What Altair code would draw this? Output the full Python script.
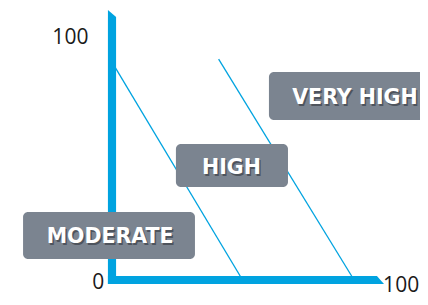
import altair as alt
import pandas as pd

# ---- data (in chart units: x 0..100, y 0..100) ----
boundary_names = ["moderate/high", "moderate/high", "high/very high", "high/very high"]
boundary_x = [0, 48, 39.2, 89]
boundary_y = [90, 0, 91.3, 0]

zone_labels = ["VERY HIGH", "HIGH", "MODERATE"]
zone_x0 = [57.7, 23.5, -32.7]
zone_x1 = [115.8, 64.7, 30.5]
zone_y0 = [66.1, 38.4, 8.7]
zone_y1 = [86.0, 56.2, 28.1]
zone_text_x = [89.3, 43.9, -0.7]
zone_text_y = [75.2, 46.3, 17.8]

tick_labels = ["100", "0", "100"]
tick_x = [-15.3, -5.1, 106.3]
tick_y = [100, -1.4, -2.3]

# axis bars (vertical: slanted top; horizontal: slanted end)
vbar_x = [-1.5, 1.5]
vbar_top = [111.6, 108.7]
vbar_bottom = [-1.65, -1.65]
hbar_y = [1.65, -1.65]
hbar_left = [-1.5, -1.5]
hbar_right = [97.4, 100]

BLUE = "#00a3e0"
GRAY = "#7b8490"

xs = alt.Scale(domain=[-38.235, 113.235], nice=False, zero=False)
ys = alt.Scale(domain=[-7.025, 112.397], nice=False, zero=False)

lines_df = pd.DataFrame({"g": boundary_names, "x": boundary_x, "y": boundary_y})
zones_df = pd.DataFrame({"label": zone_labels, "x0": zone_x0, "x1": zone_x1,
                         "y0": zone_y0, "y1": zone_y1, "tx": zone_text_x, "ty": zone_text_y})
ticks_df = pd.DataFrame({"t": tick_labels, "x": tick_x, "y": tick_y})
vbar_df = pd.DataFrame({"x": vbar_x, "top": vbar_top, "bottom": vbar_bottom})
hbar_df = pd.DataFrame({"y": hbar_y, "left": hbar_left, "right": hbar_right})

lines = alt.Chart(lines_df).mark_line(color=BLUE, strokeWidth=1.3).encode(
    x=alt.X("x:Q", scale=xs, axis=None),
    y=alt.Y("y:Q", scale=ys, axis=None),
    detail="g:N",
)

vbar = alt.Chart(vbar_df).mark_area(color=BLUE, orient="vertical").encode(
    x=alt.X("x:Q", scale=xs, axis=None),
    y=alt.Y("top:Q", scale=ys, axis=None),
    y2="bottom:Q",
)

hbar = alt.Chart(hbar_df).mark_area(color=BLUE, orient="horizontal").encode(
    y=alt.Y("y:Q", scale=ys, axis=None),
    x=alt.X("left:Q", scale=xs, axis=None),
    x2="right:Q",
)

boxes = alt.Chart(zones_df).mark_rect(color=GRAY, cornerRadius=5).encode(
    x=alt.X("x0:Q", scale=xs, axis=None),
    x2="x1:Q",
    y=alt.Y("y0:Q", scale=ys, axis=None),
    y2="y1:Q",
)

shadow = alt.Chart(zones_df).mark_text(
    font="DejaVu Sans", fontWeight="bold", fontSize=20.5, color="#3c4048", opacity=0.7,
    dx=1.5, dy=2, align="center", baseline="middle"
).encode(
    x=alt.X("tx:Q", scale=xs, axis=None),
    y=alt.Y("ty:Q", scale=ys, axis=None),
    text="label:N",
)

texts = alt.Chart(zones_df).mark_text(
    font="DejaVu Sans", fontWeight="bold", fontSize=20.5, color="white",
    align="center", baseline="middle"
).encode(
    x=alt.X("tx:Q", scale=xs, axis=None),
    y=alt.Y("ty:Q", scale=ys, axis=None),
    text="label:N",
)

ticks = alt.Chart(ticks_df).mark_text(
    font="Open Sans", fontSize=21, color="#1a1a1a", align="center", baseline="middle"
).encode(
    x=alt.X("x:Q", scale=xs, axis=None),
    y=alt.Y("y:Q", scale=ys, axis=None),
    text="t:N",
)

chart = alt.layer(lines, vbar, hbar, boxes, shadow, texts, ticks).properties(
    width=412, height=289, autosize="none", padding=0
).configure_view(stroke=None)

chart.save("out.html", embed_options={"renderer": "svg", "actions": False})
